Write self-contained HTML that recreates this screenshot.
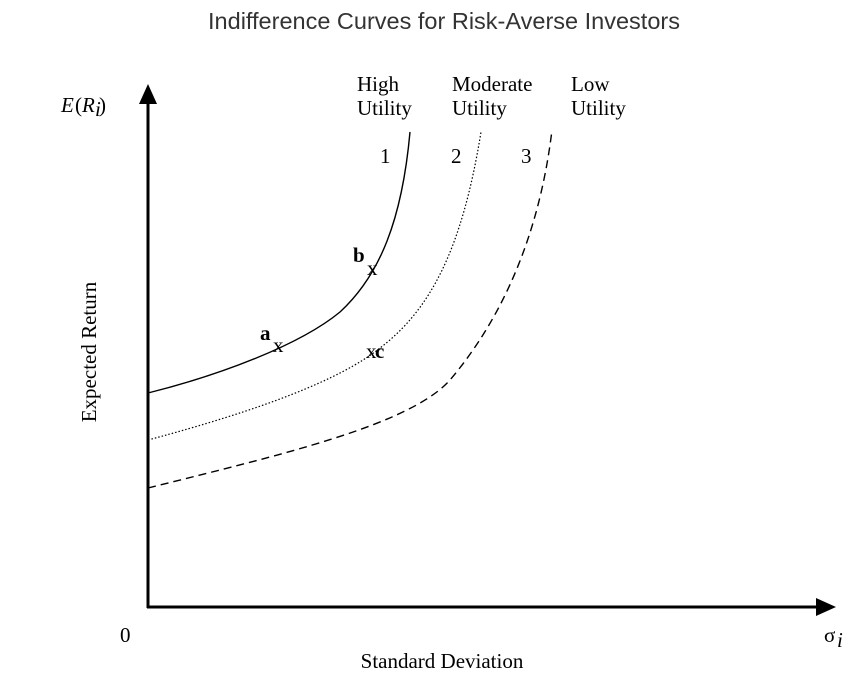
<!DOCTYPE html>
<html><head><meta charset="utf-8"><style>
html,body{margin:0;padding:0;background:#fff;}
svg{display:block;}
.t{font-family:"Liberation Serif",serif;font-size:21px;fill:#000;}
</style></head><body>
<svg width="868" height="679" viewBox="0 0 868 679" xmlns="http://www.w3.org/2000/svg">
<text x="444" y="29" text-anchor="middle" font-family="Liberation Sans, sans-serif" font-size="23.5" fill="#333">Indifference Curves for Risk-Averse Investors</text>
<line x1="148" y1="100" x2="148" y2="608" stroke="#000" stroke-width="3"/>
<polygon points="148,84 139,104 157,104" fill="#000"/>
<line x1="147" y1="607" x2="820" y2="607" stroke="#000" stroke-width="3"/>
<polygon points="836,607 816,598 816,616" fill="#000"/>
<path d="M148,393 C220,375 300,345 340,312 C380,275 402,220 410,132" fill="none" stroke="#000" stroke-width="1.4"/>
<path d="M148,440 C260,410 340,380 380,348 C430,310 462,250 481,132" fill="none" stroke="#000" stroke-width="1.2" stroke-dasharray="1.5,2"/>
<path d="M148,488 C280,455 410,425 450,380 C505,315 540,230 552,130" fill="none" stroke="#000" stroke-width="1.4" stroke-dasharray="8,5"/>
<text class="t" x="357" y="91">High</text>
<text class="t" x="357" y="115">Utility</text>
<text class="t" x="452" y="91">Moderate</text>
<text class="t" x="452" y="115">Utility</text>
<text class="t" x="571" y="91">Low</text>
<text class="t" x="571" y="115">Utility</text>
<text class="t" x="380" y="163">1</text>
<text class="t" x="451" y="163">2</text>
<text class="t" x="521" y="163">3</text>
<text class="t" x="353" y="262" font-weight="bold">b</text>
<text class="t" x="367" y="275" font-size="16">x</text>
<text class="t" x="260" y="340" font-weight="bold">a</text>
<text class="t" x="273" y="352" font-size="16">x</text>
<text class="t" x="366" y="358" font-size="16">x</text>
<text class="t" x="375" y="358" font-weight="bold">c</text>
<text class="t" x="61" y="112" font-style="italic">E</text>
<text class="t" x="75" y="112">(</text>
<text class="t" x="82" y="112" font-style="italic">R</text>
<text class="t" x="95" y="116" font-style="italic" font-size="13">i</text>
<text class="t" x="99" y="112">)</text>
<text class="t" transform="translate(96,352) rotate(-90)" text-anchor="middle">Expected Return</text>
<text class="t" x="120" y="642">0</text>
<text class="t" x="442" y="668" text-anchor="middle">Standard Deviation</text>
<text class="t" x="824" y="642">σ</text>
<text class="t" x="837" y="647" font-style="italic" font-size="13">i</text>
</svg>
</body></html>
